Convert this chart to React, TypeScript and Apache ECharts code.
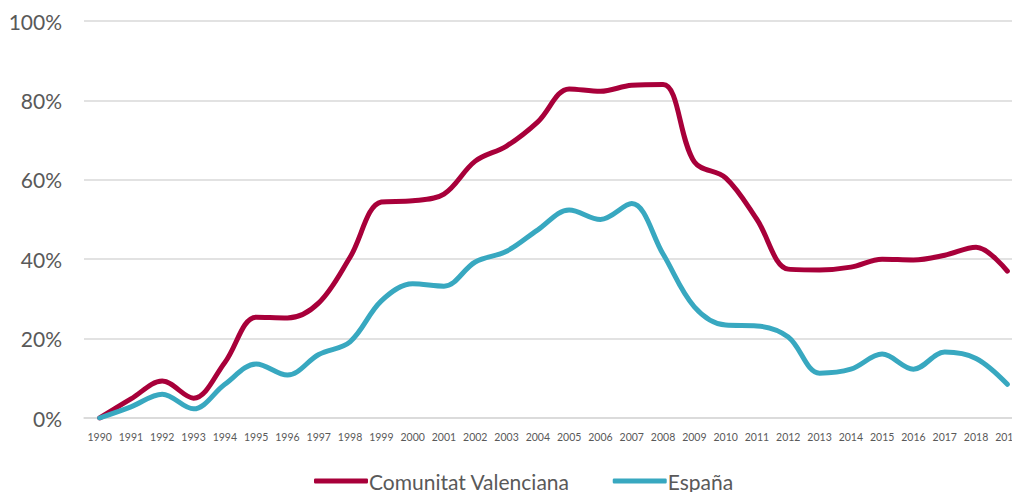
import React, { useEffect, useRef } from "react";
import * as echarts from "echarts";

const years = ["1990","1991","1992","1993","1994","1995","1996","1997","1998","1999","2000","2001","2002","2003","2004","2005","2006","2007","2008","2009","2010","2011","2012","2013","2014","2015","2016","2017","2018","2019"];
const valenciana = [0,4.8,9.3,5,14,25.4,25.2,29,40.5,54.4,54.7,56.4,64.7,68.5,74.6,82.9,82.3,83.8,84,64.5,60.5,50,37.5,37.3,38,40,39.8,41,43,37];
const espana = [0,2.8,6,2.3,8.5,13.6,10.8,16,19.2,29.5,33.8,33.2,39.3,42,47.4,52.4,50,54,41.3,28,23.4,23.2,20.4,11.3,12.3,16.1,12.3,16.6,15,8.5];
const yTicks = [0, 20, 40, 60, 80, 100];

export default function App() {
  const ref = useRef<HTMLDivElement>(null);
  useEffect(() => {
    if (!ref.current) return;
    const chart = echarts.init(ref.current, null, { renderer: "svg" });
    chart.setOption({
      animation: false,
      textStyle: { fontFamily: "Lato" },
      grid: { left: 84, top: 21, bottom: 74, right: 17, containLabel: false },
      legend: {
        data: ["Comunitat Valenciana", "España"],
        left: 309,
        top: 465,
        icon: "roundRect",
        itemWidth: 54,
        itemHeight: 5,
        itemGap: 43,
        textStyle: { fontSize: 21, color: "#595959", padding: [0, 0, 0, -4], lineHeight: 22 },
      },
      xAxis: {
        type: "category",
        data: years,
        boundaryGap: true,
        axisLine: { lineStyle: { color: "#D9D9D9", width: 1.5 } },
        axisTick: { show: false },
        axisLabel: { color: "#595959", fontSize: 10.5, margin: 13, interval: 0 },
      },
      yAxis: {
        type: "value",
        min: 0,
        max: 100,
        interval: 20,
        axisLine: { show: false },
        axisTick: { show: false },
        splitLine: { lineStyle: { color: "#D9D9D9", width: 1.5 } },
        axisLabel: {
          color: "#595959",
          fontSize: 21,
          margin: 22,
          formatter: (v: number) => (yTicks.includes(v) ? v + "%" : ""),
        },
      },
      series: [
        {
          name: "Comunitat Valenciana",
          type: "line",
          data: valenciana,
          smooth: 0.35,
          symbol: "none",
          lineStyle: { color: "#A8003A", width: 5, cap: "round" },
          itemStyle: { color: "#A8003A" },
        },
        {
          name: "España",
          type: "line",
          data: espana,
          smooth: 0.35,
          symbol: "none",
          lineStyle: { color: "#38A8C0", width: 5, cap: "round" },
          itemStyle: { color: "#38A8C0" },
        },
      ],
    });
    return () => chart.dispose();
  }, []);
  return (
    <div style={{ position: "fixed", left: 0, top: 0, width: 1012, height: 492, overflow: "hidden", background: "#fff" }}>
      <div ref={ref} style={{ width: 1040, height: 492 }} />
    </div>
  );
}
